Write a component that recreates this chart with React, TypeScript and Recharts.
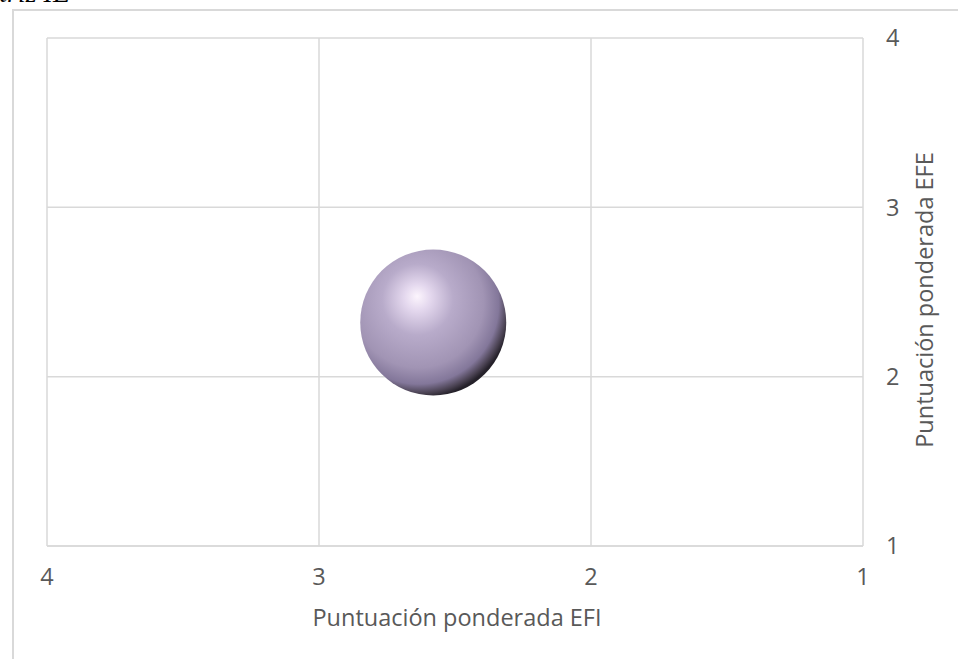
import React from 'react'
import { ScatterChart, Scatter, XAxis, YAxis, ZAxis, CartesianGrid, Label } from 'recharts'

// Matriz IE: one weighted-score bubble (EFI on x, EFE on y)
const efiScores = [2.58]
const efeScores = [2.32]
const bubbleSizes = [1]
const xTicks = [1, 2, 3, 4]
const yTicks = [1, 2, 3, 4]

const FONT = '"Open Sans", Calibri, sans-serif'
const FONT_SIZE = 23.5
const TEXT = '#595959'
const GRID = '#d9d9d9'

const data = efiScores.map((efi, i) => ({ efi, efe: efeScores[i], size: bubbleSizes[i] }))

// shaded sphere instead of a flat circle
const Sphere = (props: any) => {
  const { cx, cy } = props
  const r = props.width ? props.width / 2 : Math.sqrt((props.size ?? 0) / Math.PI)
  return (
    <g>
      <defs>
        <radialGradient id="sphereFill" cx="0.4" cy="0.38" r="0.64" fx="0.39" fy="0.32">
          <stop offset="0" stopColor="#fcf5fd" />
          <stop offset="0.14" stopColor="#e4d8ee" />
          <stop offset="0.38" stopColor="#b8abca" />
          <stop offset="0.7" stopColor="#a194b4" />
          <stop offset="0.86" stopColor="#83779a" />
          <stop offset="0.95" stopColor="#4a4252" />
          <stop offset="1" stopColor="#25212a" />
        </radialGradient>
      </defs>
      <circle cx={cx} cy={cy} r={r} fill="url(#sphereFill)" />
    </g>
  )
}

const renderXTitle = (props: any) => {
  const { x, y, width } = props.viewBox
  return (
    <text x={x + width / 2 + 2} y={y + 80} textAnchor="middle" fill={TEXT} fontSize={FONT_SIZE} fontFamily={FONT}>
      Puntuación ponderada EFI
    </text>
  )
}

const renderYTitle = (props: any) => {
  const { x, y, height } = props.viewBox
  const cx = x + 61
  const cy = y + height / 2 + 8
  return (
    <text
      x={cx}
      y={cy}
      textAnchor="middle"
      dominantBaseline="central"
      transform={`rotate(-90, ${cx}, ${cy})`}
      fill={TEXT}
      fontSize={FONT_SIZE}
      fontFamily={FONT}
    >
      Puntuación ponderada EFE
    </text>
  )
}

export default function App() {
  return (
    <div style={{ position: 'absolute', left: 0, top: 0, width: 958, height: 659, background: '#fff', overflow: 'hidden' }}>
      {/* caption above the chart box, mostly off the top edge */}
      <div
        style={{
          position: 'absolute',
          right: 888,
          top: -23,
          fontFamily: '"Liberation Serif", serif',
          fontStyle: 'italic',
          fontSize: 28,
          whiteSpace: 'nowrap',
          color: '#000',
        }}
      >
        Matriz IE
      </div>
      <div
        style={{
          position: 'absolute',
          left: 12,
          top: 9,
          width: 980,
          height: 700,
          borderLeft: `2px solid ${GRID}`,
          borderTop: `2px solid ${GRID}`,
        }}
      />
      <div style={{ position: 'absolute', left: 0, top: 0 }}>
        <ScatterChart width={958} height={659} margin={{ top: 38, left: 47, right: 35, bottom: 23 }}>
          <CartesianGrid stroke={GRID} strokeWidth={1.5} />
          <XAxis
            type="number"
            dataKey="efi"
            domain={[1, 4]}
            ticks={xTicks}
            reversed
            height={90}
            tickLine={false}
            tickSize={0}
            tickMargin={22}
            axisLine={{ stroke: GRID, strokeWidth: 1.5 }}
            tick={{ fill: TEXT, fontSize: FONT_SIZE, fontFamily: FONT }}
          >
            <Label content={renderXTitle} />
          </XAxis>
          <YAxis
            type="number"
            dataKey="efe"
            orientation="right"
            domain={[1, 4]}
            ticks={yTicks}
            width={60}
            tickLine={false}
            tickSize={0}
            tickMargin={23}
            axisLine={false}
            tick={{ fill: TEXT, fontSize: FONT_SIZE, fontFamily: FONT }}
          >
            <Label content={renderYTitle} />
          </YAxis>
          <ZAxis type="number" dataKey="size" range={[16742, 16742]} />
          <Scatter data={data} shape={Sphere} isAnimationActive={false} />
        </ScatterChart>
      </div>
    </div>
  )
}
